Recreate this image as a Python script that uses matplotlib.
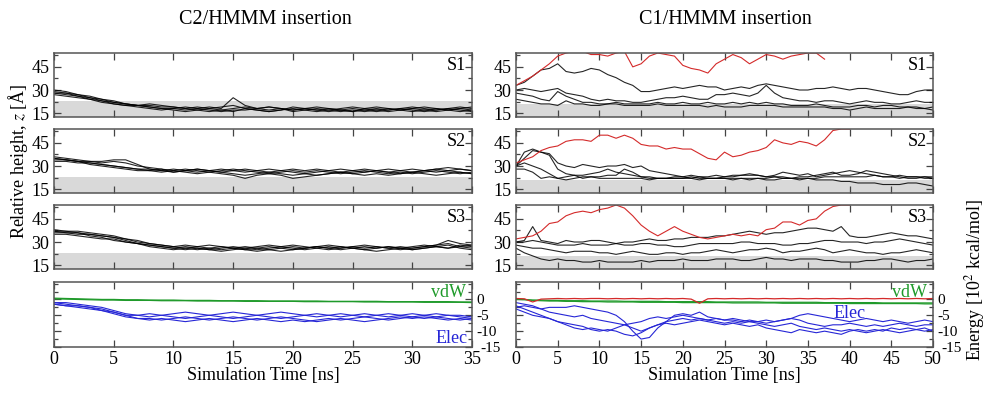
import numpy as np
import matplotlib.pyplot as plt
import matplotlib.transforms as mtransforms
from matplotlib.ticker import MultipleLocator

plt.rcParams["font.family"] = ["Liberation Serif", "DejaVu Serif"]
plt.rcParams["mathtext.fontset"] = "stix"

# ---- C2/HMMM insertion, 0..35 ns, one value per ns ----
t_left = list(range(36))

c2_s1 = [
    [30, 29, 27, 25, 23, 22, 21, 20, 20, 19, 19, 18, 19, 18, 17, 18, 19, 18, 17, 18, 17, 18, 17, 16, 17, 18, 17, 16, 17, 18, 17, 16, 17, 18, 17, 16],
    [29, 28, 27, 26, 24, 23, 21, 20, 19, 18, 18, 19, 18, 19, 18, 25, 20, 18, 19, 18, 17, 18, 19, 18, 17, 16, 18, 19, 18, 17, 18, 19, 18, 17, 18, 19],
    [28, 27, 26, 25, 24, 22, 21, 20, 21, 20, 19, 18, 17, 18, 19, 20, 18, 17, 16, 17, 18, 17, 16, 17, 16, 17, 16, 17, 16, 17, 18, 17, 16, 17, 16, 17],
    [28, 28, 26, 24, 22, 21, 20, 19, 18, 17, 18, 17, 18, 17, 16, 17, 17, 18, 19, 18, 16, 17, 18, 17, 18, 19, 18, 17, 18, 17, 16, 17, 18, 17, 18, 17],
    [27, 26, 25, 24, 23, 21, 20, 20, 19, 18, 17, 16, 17, 16, 17, 16, 18, 17, 16, 17, 19, 18, 17, 18, 17, 16, 17, 18, 17, 18, 19, 18, 17, 18, 19, 18],
]
c2_s2 = [
    [35, 34, 33, 32, 31, 30, 29, 28, 27, 28, 26, 27, 26, 27, 26, 27, 28, 27, 26, 27, 26, 25, 26, 27, 26, 27, 26, 27, 26, 27, 26, 27, 28, 27, 26, 25],
    [36, 35, 34, 33, 33, 34, 34, 31, 28, 27, 28, 27, 28, 27, 26, 25, 24, 25, 26, 25, 24, 25, 24, 25, 26, 25, 24, 25, 24, 25, 26, 25, 24, 25, 26, 25],
    [34, 34, 33, 33, 32, 33, 32, 30, 29, 28, 27, 28, 27, 26, 27, 28, 27, 26, 25, 24, 22, 23, 24, 25, 26, 25, 26, 27, 26, 25, 26, 27, 26, 27, 28, 27],
    [35, 34, 33, 31, 30, 29, 28, 27, 27, 26, 27, 26, 25, 26, 25, 24, 22, 24, 25, 26, 27, 26, 27, 26, 25, 26, 27, 26, 25, 26, 25, 26, 27, 26, 25, 26],
    [33, 33, 32, 32, 31, 30, 29, 28, 28, 27, 26, 27, 28, 27, 28, 27, 26, 27, 28, 27, 28, 27, 28, 27, 28, 27, 28, 27, 28, 27, 28, 27, 28, 29, 28, 27],
]
c2_s3 = [
    [38, 37, 37, 36, 35, 34, 32, 30, 29, 28, 27, 26, 27, 26, 25, 26, 25, 24, 25, 26, 25, 26, 27, 26, 25, 26, 25, 24, 25, 26, 25, 26, 27, 28, 26, 25],
    [37, 36, 36, 35, 34, 33, 31, 29, 28, 27, 26, 25, 26, 25, 24, 25, 26, 25, 26, 27, 26, 25, 26, 25, 26, 27, 26, 27, 26, 25, 26, 27, 28, 29, 27, 26],
    [36, 36, 35, 35, 34, 33, 32, 31, 29, 28, 27, 28, 27, 28, 27, 26, 27, 26, 25, 24, 25, 26, 27, 28, 27, 26, 27, 26, 27, 26, 25, 26, 27, 26, 28, 27],
    [35, 35, 34, 33, 32, 32, 30, 29, 28, 27, 26, 27, 26, 25, 26, 27, 26, 27, 28, 27, 28, 27, 26, 27, 26, 27, 28, 27, 26, 27, 26, 27, 28, 31, 29, 28],
    [37, 37, 36, 34, 33, 31, 30, 29, 27, 26, 25, 26, 25, 26, 27, 26, 25, 26, 27, 26, 27, 26, 27, 26, 27, 26, 25, 26, 27, 26, 27, 28, 27, 26, 27, 28],
]
c2_vdw = [
    [0.4, 0.3, 0.2, 0.1, 0.0, 0.0, -0.1, -0.1, -0.2, -0.2, -0.2, -0.3, -0.3, -0.3, -0.4, -0.4, -0.4, -0.4, -0.5, -0.5, -0.5, -0.5, -0.5, -0.6, -0.6, -0.6, -0.6, -0.6, -0.7, -0.7, -0.7, -0.7, -0.7, -0.7, -0.8, -0.8],
    [0.2, 0.1, 0.0, -0.1, -0.2, -0.2, -0.3, -0.3, -0.3, -0.4, -0.4, -0.4, -0.5, -0.5, -0.5, -0.5, -0.6, -0.6, -0.6, -0.6, -0.6, -0.7, -0.7, -0.7, -0.7, -0.7, -0.8, -0.8, -0.8, -0.8, -0.8, -0.9, -0.9, -0.9, -0.9, -1.0],
]
c2_elec = [
    [-1, -1.5, -2, -2.5, -3, -4, -5, -5, -5.5, -5, -5.5, -6, -5.5, -5, -5.5, -6, -5.5, -5, -5.5, -6, -5.5, -5, -4.5, -5, -5.5, -5, -4.5, -5, -5.5, -5, -4.5, -5, -5.5, -5, -5.5, -6],
    [-1.5, -2, -2, -2.5, -3.5, -4.5, -5.5, -6, -6.5, -6, -6.5, -7, -6.5, -6, -6.5, -7, -6.5, -6, -6.5, -7, -6.5, -7, -6.5, -6, -6.5, -6, -5.5, -6, -6.5, -6, -5.5, -6, -5.5, -6, -6.5, -6],
    [-1, -1, -1.5, -2, -2.5, -3.5, -4.5, -5, -4.5, -5, -4.5, -4, -4.5, -5, -4.5, -4, -4.5, -5, -4.5, -4, -4.5, -5, -5.5, -5, -4.5, -5, -5.5, -5, -4.5, -5, -5.5, -5, -4.5, -5, -5, -5.5],
    [-1.5, -2, -2.5, -3, -3.5, -4, -5, -6, -6, -6.5, -6, -5.5, -6, -6.5, -6, -5.5, -6, -6.5, -6, -5.5, -6, -6.5, -7, -6.5, -6, -6.5, -7, -6.5, -6, -5.5, -6, -5.5, -6, -6.5, -6, -6.5],
]

# ---- C1/HMMM insertion, 0..50 ns ----
t_right = list(range(51))

c1_s1_red = [33, 36, 39, 43, 47, 52, 54, 55, 55, 53, 53, 52, 54, 55, 45, 47, 52, 54, 53, 52, 46, 44, 43, 41, 47, 50, 53, 51, 47, 50, 53, 52, 50, 52, 53, 54, 54, 50]
c1_s1 = [
    [33, 35, 39, 43, 44, 47, 42, 41, 42, 44, 43, 40, 38, 35, 33, 29, 29, 30, 31, 32, 31, 32, 33, 32, 32, 30, 31, 32, 31, 33, 34, 33, 32, 31, 30, 30, 31, 31, 32, 31, 30, 31, 31, 30, 29, 28, 27, 27, 29, 30, 30],
    [30, 31, 30, 29, 30, 31, 28, 27, 26, 24, 23, 24, 23, 23, 22, 22, 23, 24, 25, 25, 26, 25, 24, 24, 27, 27, 28, 27, 26, 28, 33, 28, 25, 24, 23, 23, 22, 23, 23, 22, 21, 22, 23, 22, 22, 21, 21, 22, 23, 22, 22],
    [28, 27, 26, 24, 23, 29, 26, 24, 22, 22, 21, 21, 22, 21, 21, 21, 21, 22, 21, 21, 22, 21, 21, 22, 21, 21, 22, 21, 22, 21, 22, 21, 21, 20, 20, 20, 21, 20, 19, 19, 19, 20, 20, 19, 20, 20, 19, 19, 19, 18, 19],
    [24, 23, 22, 21, 21, 20, 23, 21, 21, 20, 20, 21, 21, 20, 20, 20, 20, 21, 20, 20, 20, 20, 20, 19, 20, 19, 19, 19, 20, 20, 20, 20, 19, 19, 19, 19, 19, 19, 18, 18, 17, 18, 19, 18, 18, 18, 18, 19, 18, 18, 17],
]
c1_s2_red = [32, 34, 36, 40, 42, 43, 46, 47, 47, 46, 50, 50, 48, 50, 48, 44, 43, 43, 41, 42, 41, 41, 38, 35, 34, 39, 36, 37, 39, 40, 42, 47, 45, 44, 46, 45, 43, 47, 53, 54, 54]
c1_s2 = [
    [30, 35, 40, 39, 38, 32, 30, 29, 31, 30, 29, 30, 30, 31, 29, 30, 27, 26, 25, 24, 23, 24, 23, 23, 24, 23, 24, 24, 25, 24, 23, 24, 26, 25, 24, 25, 23, 24, 25, 26, 27, 26, 25, 24, 23, 23, 22, 23, 23, 22, 22],
    [30, 39, 41, 39, 37, 28, 25, 24, 22, 23, 23, 24, 24, 28, 26, 23, 23, 22, 22, 23, 23, 22, 23, 22, 22, 22, 21, 22, 22, 22, 22, 23, 22, 22, 23, 23, 24, 25, 26, 24, 24, 25, 27, 26, 25, 24, 23, 22, 22, 23, 23],
    [30, 32, 30, 28, 25, 22, 21, 22, 23, 23, 22, 22, 22, 22, 22, 22, 21, 22, 22, 22, 22, 22, 21, 22, 22, 22, 22, 22, 21, 22, 21, 21, 22, 22, 21, 22, 21, 21, 21, 20, 20, 19, 19, 19, 18, 18, 18, 19, 19, 18, 17],
    [28, 28, 26, 22, 23, 22, 23, 24, 24, 25, 26, 28, 26, 25, 24, 23, 22, 22, 22, 22, 22, 23, 22, 22, 22, 23, 23, 24, 24, 24, 23, 23, 23, 22, 22, 22, 22, 23, 23, 23, 23, 23, 23, 24, 23, 23, 24, 23, 23, 23, 22],
]
c1_s3_red = [32, 33, 34, 37, 42, 43, 47, 49, 50, 49, 51, 52, 54, 52, 47, 41, 37, 34, 37, 40, 37, 35, 33, 32, 33, 34, 35, 34, 35, 34, 38, 39, 43, 43, 41, 44, 45, 50, 53, 54, 54]
c1_s3 = [
    [30, 31, 40, 31, 30, 29, 31, 30, 30, 31, 31, 30, 29, 30, 30, 31, 32, 31, 31, 32, 32, 33, 33, 33, 34, 34, 35, 36, 37, 36, 35, 36, 36, 37, 38, 39, 39, 38, 37, 40, 34, 33, 33, 34, 35, 36, 35, 34, 34, 33, 32],
    [30, 30, 31, 30, 29, 28, 28, 28, 29, 28, 28, 28, 29, 28, 28, 29, 29, 28, 28, 27, 27, 28, 29, 29, 29, 29, 29, 30, 30, 29, 29, 29, 28, 28, 29, 29, 30, 31, 31, 30, 30, 30, 29, 30, 30, 31, 32, 31, 30, 29, 28],
    [28, 27, 26, 26, 25, 24, 23, 24, 24, 24, 23, 23, 22, 23, 24, 23, 22, 22, 23, 23, 22, 23, 23, 24, 25, 24, 23, 24, 25, 25, 26, 25, 23, 24, 24, 25, 26, 25, 23, 24, 25, 24, 23, 23, 22, 23, 23, 24, 25, 24, 23],
    [26, 23, 21, 19, 18, 19, 18, 18, 17, 17, 18, 17, 17, 17, 17, 18, 17, 18, 18, 18, 19, 18, 18, 18, 19, 19, 19, 18, 18, 19, 20, 19, 19, 18, 19, 19, 19, 18, 18, 17, 17, 17, 18, 18, 19, 19, 18, 17, 18, 18, 19],
]
c1_red_energy = [0.3, 0.2, -0.8, 0.1, 0.2, 0.3, 0.2, 0.3, 0.2, 0.3, 0.3, 0.2, 0.3, 0.2, 0.3, 0.2, 0.3, 0.2, 0.3, 0.2, 0.3, 0.1, -1.2, 0.2, 0.3, 0.2, 0.3, 0.2, 0.3, 0.2, 0.3, 0.2, 0.3, 0.2, 0.3, 0.2, 0.3, 0.2, 0.3, 0.2, 0.3, 0.2, 0.3, 0.2, 0.3, 0.2, 0.3, 0.2, 0.3, 0.2, 0.3]
c1_vdw = [
    [0.1, 0.0, -0.2, -0.2, -0.3, -0.3, -0.4, -0.4, -0.4, -0.5, -0.5, -0.5, -0.5, -0.6, -0.6, -0.6, -0.6, -0.6, -0.7, -0.7, -0.7, -0.7, -0.7, -0.7, -0.8, -0.8, -0.8, -0.8, -0.8, -0.8, -0.9, -0.9, -0.9, -0.9, -0.9, -0.9, -0.9, -1.0, -1.0, -1.0, -1.0, -1.0, -1.0, -1.0, -1.1, -1.1, -1.1, -1.1, -1.1, -1.1, -1.1],
    [0.0, -0.1, -0.3, -0.4, -0.5, -0.5, -0.6, -0.6, -0.7, -0.7, -0.7, -0.8, -0.8, -0.8, -0.8, -0.9, -0.9, -0.9, -0.9, -0.9, -1.0, -1.0, -1.0, -1.0, -1.0, -1.0, -1.1, -1.1, -1.1, -1.1, -1.1, -1.1, -1.2, -1.2, -1.2, -1.2, -1.2, -1.2, -1.2, -1.2, -1.3, -1.3, -1.3, -1.3, -1.3, -1.3, -1.3, -1.3, -1.3, -1.4, -1.4],
]
c1_elec = [
    [-2.5, -2, -2.5, -3, -2.5, -2.5, -2.5, -2, -2.5, -3, -3.5, -4, -5, -7, -10, -12.5, -12, -9, -7, -5, -4.5, -5, -4, -5.5, -6, -6.5, -6, -6.5, -7, -7, -6.5, -7, -6.5, -6, -5, -4.5, -5, -5.5, -6, -6.5, -7, -6.5, -6, -6.5, -7, -6.5, -7, -7.5, -7, -6.5, -7],
    [-2, -3, -4, -5, -6, -7, -8, -9, -9.5, -9, -9.5, -10, -9, -8, -9, -10, -9, -8, -7.5, -8, -7.5, -7, -6.5, -7, -7.5, -8, -7.5, -8, -8.5, -8, -9, -9.5, -10, -10.5, -9.5, -10, -10.5, -10, -10.5, -11, -10, -9.5, -10, -9.5, -10, -9, -9.5, -9, -9.5, -9, -10],
    [-3, -4, -5, -5.5, -6, -7, -7.5, -8, -8.5, -9.5, -10, -9.5, -10, -11, -11.5, -10.5, -9, -8, -7, -6.5, -6, -6.5, -6, -6.5, -7, -7.5, -7, -7.5, -7, -7.5, -8, -8.5, -8, -7.5, -8.5, -9, -9.5, -9, -9.5, -10, -9.5, -10, -10.5, -10, -9.5, -10, -10.5, -10, -9.5, -10, -9.5],
    [-1, -1.5, -2, -3, -4, -4.5, -5, -5.5, -5, -6, -6.5, -7, -7.5, -8, -7.5, -7, -6, -5.5, -6, -5.5, -5, -5.5, -6, -6.5, -6, -6.5, -6.5, -7, -6.5, -7, -7.5, -7, -6.5, -6, -6.5, -7.5, -8, -8.5, -8, -8, -7.5, -8, -8.5, -8, -8.5, -8, -7.5, -8, -8.5, -8, -8],
]

panel_names = ["S1", "S2", "S3"]
energy_ticks = [0, -5, -10, -15]

RED = "#d42a2a"
BLUE = "#2626d6"
GREEN = "#1f9a2a"
SHADE = "#d9d9d9"
FS = 13

fig = plt.figure(figsize=(9.89, 3.97), dpi=100)

col_x = [54 / 989, 516 / 989]
col_w = [418 / 989, 417 / 989]
row_b = [1 - 117 / 397, 1 - 193 / 397, 1 - 269 / 397]
row_h = 64 / 397
e_b = 1 - 347 / 397
e_h = 65 / 397


def style(ax, xmax):
    ax.set_xlim(0, xmax)
    ax.xaxis.set_major_locator(MultipleLocator(5))
    ax.tick_params(axis="both", which="both", direction="in", top=True, right=True,
                   labelsize=FS, width=0.9, color="#444444")
    ax.tick_params(which="major", length=5)
    ax.tick_params(which="minor", length=3)
    for s in ax.spines.values():
        s.set_color("#555555")
        s.set_linewidth(1.1)


columns = [
    (t_left, [c2_s1, c2_s2, c2_s3], [None, None, None], 35, 23),
    (t_right, [c1_s1, c1_s2, c1_s3], [c1_s1_red, c1_s2_red, c1_s3_red], 50, 21),
]

for ci, (t, panels, reds, xmax, shade_top) in enumerate(columns):
    for ri in range(3):
        ax = fig.add_axes([col_x[ci], row_b[ri], col_w[ci], row_h])
        ax.axhspan(12, shade_top, color=SHADE, lw=0, zorder=0)
        for line in panels[ri]:
            ax.plot(t, line, color="black", lw=0.8, alpha=0.85)
        if reds[ri] is not None:
            ax.plot(t[:len(reds[ri])], reds[ri], color=RED, lw=0.8)
        style(ax, xmax)
        ax.set_ylim(12.5, 54)
        ax.set_yticks([15, 30, 45])
        ax.yaxis.set_minor_locator(MultipleLocator(7.5))
        ax.tick_params(labelbottom=False)
        ax.text(0.985, 0.93, panel_names[ri], transform=ax.transAxes,
                ha="right", va="top", fontsize=FS)

    # energy panel
    ax = fig.add_axes([col_x[ci], e_b, col_w[ci], e_h])
    vdw = c2_vdw if ci == 0 else c1_vdw
    elec = c2_elec if ci == 0 else c1_elec
    for line in vdw:
        ax.plot(t, line, color=GREEN, lw=0.9)
    if ci == 1:
        ax.plot(t, c1_red_energy, color=RED, lw=0.9)
    for line in elec:
        ax.plot(t, line, color=BLUE, lw=0.8)
    style(ax, xmax)
    ax.set_ylim(-15, 5.5)
    ax.set_yticks(energy_ticks)
    ax.set_yticklabels([str(v) for v in energy_ticks])
    ax.yaxis.set_minor_locator(MultipleLocator(2.5))
    ax.tick_params(axis="y", labelleft=False, labelright=True, pad=3, labelsize=11)
    ax.tick_params(axis="x", pad=3)
    # nudge the bottom energy label right so it clears the last time label
    nudge = mtransforms.ScaledTranslation(3 / 72, 0, fig.dpi_scale_trans)
    lab = ax.get_yticklabels()[-1]
    lab.set_transform(lab.get_transform() + nudge)
    ax.set_xlabel("Simulation Time [ns]", fontsize=FS, labelpad=-1)
    ax.text(0.985, 0.97, "vdW", color=GREEN, transform=ax.transAxes,
            ha="right", va="top", fontsize=FS)
    if ci == 0:
        ax.text(34.6, -12.4, "Elec", color=BLUE, ha="right", va="center", fontsize=FS)
    else:
        ax.text(40, -4.3, "Elec", color=BLUE, ha="center", va="center", fontsize=FS)

fig.text(265 / 989, 1 - 20 / 397, "C2/HMMM insertion", ha="center", va="center", fontsize=14.5)
fig.text(725 / 989, 1 - 20 / 397, "C1/HMMM insertion", ha="center", va="center", fontsize=14.5)
fig.text(18 / 989, 1 - 161 / 397, r"Relative height, $z$ [Å]", rotation=90,
         ha="center", va="center", fontsize=FS)
fig.text(975 / 989, 1 - 280 / 397, r"Energy [10$^2$ kcal/mol]", rotation=90,
         ha="center", va="center", fontsize=FS)

fig.savefig("out.png", dpi=100)
